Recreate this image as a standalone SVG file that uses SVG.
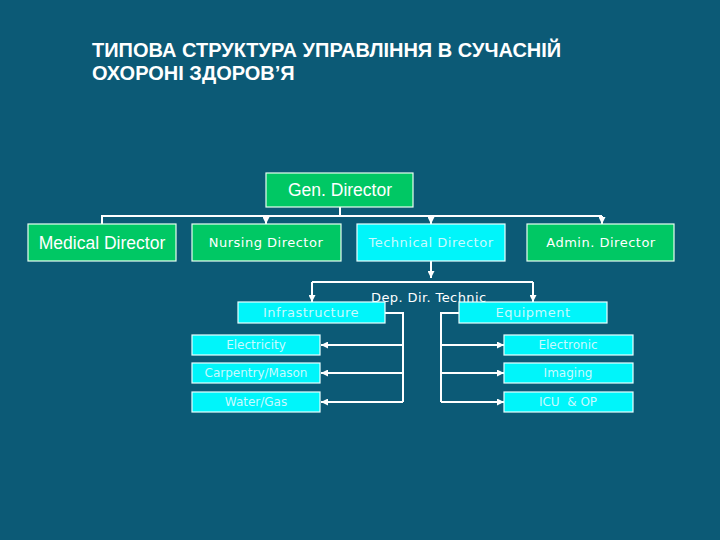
<svg xmlns="http://www.w3.org/2000/svg" width="720" height="540" viewBox="0 0 720 540">
<defs>
<marker id="ah" viewBox="0 0 10 10" refX="10" refY="5" markerWidth="7" markerHeight="7" orient="auto" markerUnits="userSpaceOnUse">
<path d="M0,0 L10,5 L0,10 z" fill="#ffffff"/>
</marker>
<style>
.bg{fill:#0C5A76}
.green{fill:#00C864;stroke:#E8FFF0;stroke-width:1.2}
.cyan{fill:#00F5FA;stroke:#E8FFFF;stroke-width:1.2}
.title{font-family:"Liberation Sans",Arial,sans-serif;font-weight:bold;font-size:20px;fill:#ffffff}
.big{font-family:"Liberation Sans",Arial,sans-serif;font-size:17.5px;fill:#ffffff;text-anchor:middle}
.mid{font-family:"DejaVu Sans",Verdana,sans-serif;font-size:13px;letter-spacing:0.5px;fill:#ffffff;text-anchor:middle}
.cy{font-family:"DejaVu Sans",Verdana,sans-serif;font-size:13px;letter-spacing:0.5px;fill:#C8FAFF;text-anchor:middle}
.sm{font-family:"DejaVu Sans",Verdana,sans-serif;font-size:12px;fill:#C8FAFF;text-anchor:middle}
.lbl{font-family:"DejaVu Sans",Verdana,sans-serif;font-size:13px;letter-spacing:0.4px;fill:#ffffff}
.ln{fill:none;stroke:#ffffff;stroke-width:2}
.la{fill:none;stroke:#ffffff;stroke-width:2;marker-end:url(#ah)}
</style>
</defs>
<rect class="bg" x="0" y="0" width="720" height="540"/>
<text class="title" x="92" y="57">ТИПОВА СТРУКТУРА УПРАВЛІННЯ В СУЧАСНІЙ</text>
<text class="title" x="92" y="80">ОХОРОНІ ЗДОРОВ’Я</text>

<g id="connectors">
<path class="ln" d="M340,207 V216"/>
<path class="ln" d="M102,224 V216 H602"/>
<path class="la" d="M266,216 V224"/>
<path class="la" d="M431,216 V224"/>
<path class="la" d="M602,216 V224"/>
<path class="la" d="M431,261 V278"/>
<path class="ln" d="M312,282 H533"/>
<path class="la" d="M312,282 V302"/>
<path class="la" d="M533,282 V302"/>
<path class="ln" d="M385,313 H403 V402"/>
<path class="la" d="M403,345 H321"/>
<path class="la" d="M403,373 H321"/>
<path class="la" d="M403,402 H321"/>
<path class="ln" d="M459,313 H441 V402"/>
<path class="la" d="M441,345 H504"/>
<path class="la" d="M441,373 H504"/>
<path class="la" d="M441,402 H504"/>
</g>

<g id="gen-director"><rect class="green" x="266" y="173" width="147" height="34"/><text class="big" x="340" y="196">Gen. Director</text></g>
<g id="medical-director"><rect class="green" x="28" y="224" width="148" height="37"/><text class="big" x="102" y="249">Medical Director</text></g>
<g id="nursing-director"><rect class="green" x="192" y="224" width="149" height="37"/><text class="mid" x="266" y="247">Nursing Director</text></g>
<g id="technical-director"><rect class="cyan" x="357" y="224" width="148" height="37"/><text class="cy" x="431" y="247">Technical Director</text></g>
<g id="admin-director"><rect class="green" x="527" y="224" width="147" height="37"/><text class="mid" x="601" y="247">Admin. Director</text></g>

<g id="dep-dir-technic"><text class="lbl" x="371" y="302">Dep. Dir. Technic</text></g>
<g id="infrastructure"><rect class="cyan" x="238" y="302" width="147" height="21"/><text class="cy" x="311" y="317">Infrastructure</text></g>
<g id="equipment"><rect class="cyan" x="459" y="302" width="148" height="21"/><text class="cy" x="533" y="317">Equipment</text></g>

<g id="electricity"><rect class="cyan" x="192" y="335" width="128" height="20"/><text class="sm" x="256" y="349">Electricity</text></g>
<g id="carpentry-mason"><rect class="cyan" x="192" y="363" width="128" height="20"/><text class="sm" x="256" y="377">Carpentry/Mason</text></g>
<g id="water-gas"><rect class="cyan" x="192" y="392" width="128" height="20"/><text class="sm" x="256" y="406">Water/Gas</text></g>
<g id="electronic"><rect class="cyan" x="504" y="335" width="129" height="20"/><text class="sm" x="568" y="349">Electronic</text></g>
<g id="imaging"><rect class="cyan" x="504" y="363" width="129" height="20"/><text class="sm" x="568" y="377">Imaging</text></g>
<g id="icu-op"><rect class="cyan" x="504" y="392" width="129" height="20"/><text class="sm" x="568" y="406" xml:space="preserve">ICU  &amp; OP</text></g>
</svg>
